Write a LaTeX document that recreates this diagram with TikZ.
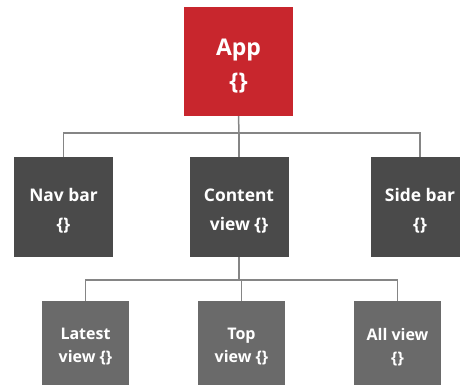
\documentclass[tikz,border=0pt]{standalone}
\usepackage{fontspec}
\setmainfont{Open Sans}
\definecolor{appred}{HTML}{C8262D}
\definecolor{midgray}{HTML}{4A4A4A}
\definecolor{lowgray}{HTML}{6A6A6A}
\definecolor{linegray}{HTML}{858585}
\begin{document}
\begin{tikzpicture}[x=1pt,y=1pt,
  box/.style={inner sep=0pt},
  lbl/.style={inner sep=0pt, text=white, align=center},
  top/.style={box, fill=appred, minimum width=109pt, minimum height=109pt},
  mid/.style={box, fill=midgray, minimum width=99pt, minimum height=100pt},
  low/.style={box, fill=lowgray, minimum width=87pt, minimum height=84pt},
  toptext/.style={lbl, font=\bfseries\fontsize{23}{34}\selectfont},
  midtext/.style={lbl, font=\bfseries\fontsize{17.4}{29}\selectfont},
  lowtext/.style={lbl, font=\bfseries\fontsize{16}{23}\selectfont},
  conn/.style={draw=linegray, line width=1.5pt}]
\useasboundingbox (0,0) rectangle (460,-385);
\node[top] (app) at (238.5,-61.5) {};
\node[mid] (nav) at (63.5,-207) {};
\node[mid] (content) at (239,-207) {};
\node[mid] (side) at (420,-207) {};
\node[low] (latest) at (85.5,-343) {};
\node[low] (topv) at (241.5,-343) {};
\node[low] (all) at (397.5,-343) {};
\node[toptext] (appt) at ([yshift=-5pt]app.center) {App\\\{\}};
\node[midtext] (navt) at ([yshift=-4pt]nav.center) {Nav bar\\\{\}};
\node[midtext] (contentt) at ([yshift=-4pt]content.center) {Content\\view \{\}};
\node[midtext] (sidet) at ([yshift=-4pt]side.center) {Side bar\\\{\}};
\node[lowtext] (latestt) at ([yshift=-4pt]latest.center) {Latest\\view \{\}};
\node[lowtext] (topvt) at ([yshift=-4pt]topv.center) {Top\\view \{\}};
\node[lowtext] (allt) at ([yshift=-4pt]all.center) {All view\\\{\}};
\coordinate (b1) at (239,-133);
\coordinate (b2) at (241,-280);
\draw[conn] (app.south) -- (b1);
\draw[conn] (b1) -- (content.north);
\draw[conn] (nav.north) |- (b1) -| (side.north);
\draw[conn] (content.south) -- (content.south |- b2);
\draw[conn] (topv.north) -- (topv.north |- b2);
\draw[conn] (latest.north) |- (b2) -| (all.north);
\end{tikzpicture}
\end{document}
